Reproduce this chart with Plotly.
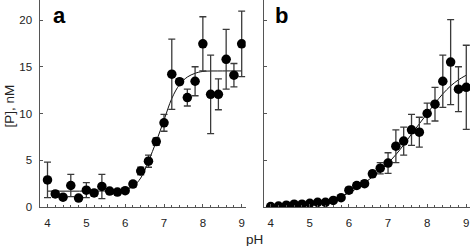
import plotly.graph_objects as go

# ---- data ----
ph = [4.0, 4.2, 4.4, 4.6, 4.8, 5.0, 5.2, 5.4, 5.6, 5.8, 6.0, 6.2, 6.4,
      6.6, 6.8, 7.0, 7.2, 7.4, 7.6, 7.8, 8.0, 8.2, 8.4, 8.6, 8.8, 9.0]

a_vals = [2.9, 1.4, 1.05, 2.3, 0.95, 1.8, 1.5, 2.2, 1.7, 1.6, 1.75, 2.45, 3.85,
          4.9, 7.0, 9.0, 14.2, 13.4, 11.7, 13.45, 17.45, 12.05, 12.05, 15.8, 14.1, 17.45]
a_err = [1.9, 0.3, 0.2, 1.2, 0.2, 0.8, 0.3, 1.3, 0.2, 0.2, 0.2, 0.3, 0.4,
         0.65, 0.4, 0.9, 3.75, 0.3, 0.9, 1.55, 2.9, 4.2, 1.65, 3.2, 1.25, 3.5]

b_vals = [0.05, 0.1, 0.2, 0.3, 0.3, 0.4, 0.5, 0.5, 0.7, 1.0, 1.8, 2.3, 2.5,
          3.55, 4.15, 4.7, 6.5, 7.05, 8.25, 8.0, 10.0, 11.0, 13.45, 15.5, 12.6, 12.8]
b_err = [0.1, 0.1, 0.1, 0.1, 0.1, 0.1, 0.1, 0.1, 0.1, 0.2, 0.3, 0.3, 0.3,
         0.3, 0.6, 1.1, 1.75, 1.5, 1.65, 1.6, 1.1, 1.8, 2.8, 4.55, 2.4, 4.5]

fit_a_ph = [4.0, 5.0, 5.8, 6.0, 6.2, 6.4, 6.6, 6.8, 7.0, 7.2, 7.4, 7.6, 7.8, 8.0, 8.5, 9.0]
fit_a = [1.7, 1.7, 1.75, 1.85, 2.2, 3.1, 4.9, 7.0, 9.3, 11.6, 13.1, 13.9, 14.3, 14.5, 14.55, 14.55]

fit_b_ph = [4.0, 4.5, 5.0, 5.5, 6.0, 6.2, 6.4, 6.6, 6.8, 7.0, 7.2, 7.4, 7.6, 7.8, 8.0, 8.2, 8.4, 8.6, 8.8, 9.0]
fit_b = [0.05, 0.15, 0.35, 0.75, 1.5, 2.0, 2.6, 3.2, 3.9, 4.7, 5.6, 6.65, 7.8, 8.9, 10.0, 11.1, 12.1, 12.95, 13.6, 14.1]

y_ticks = [0, 5, 10, 15, 20]
x_ticks = [4, 5, 6, 7, 8, 9]

W, H = 472, 246
PH = 207  # plot-area height in px (margin b = 39)
axis_col = "#555555"
err_col = "#3a3a3a"
font_fam = "Liberation Sans, Arial, sans-serif"


def py(pix):
    """pixel row (from top of figure) -> paper y within the plot area"""
    return (PH - pix) / PH


fig = go.Figure()

for xa, ya, vals, errs, fx, fy in [
    ("x", "y", a_vals, a_err, fit_a_ph, fit_a),
    ("x2", "y2", b_vals, b_err, fit_b_ph, fit_b),
]:
    fig.add_trace(go.Scatter(
        x=fx, y=fy, mode="lines", line=dict(color="#111111", width=1, shape="spline"),
        xaxis=xa, yaxis=ya, hoverinfo="skip"))
    fig.add_trace(go.Scatter(
        x=ph, y=vals, mode="markers",
        marker=dict(color="black", size=9.5, line=dict(width=0)),
        error_y=dict(type="data", array=errs, visible=True, color=err_col,
                     thickness=1.3, width=3.5),
        xaxis=xa, yaxis=ya))

common_x = dict(
    showgrid=False, zeroline=False, showline=True, linecolor=axis_col, linewidth=1.3,
    ticks="inside", ticklen=3, tickcolor=axis_col, tickwidth=1,
    tickvals=x_ticks, ticktext=[str(v) for v in x_ticks],
    tickfont=dict(family=font_fam, size=11.5, color="#222222"),
    ticklabelstandoff=5,
    minor=dict(dtick=0.2, tick0=4, ticks="inside", ticklen=2, tickcolor=axis_col, tickwidth=1),
    fixedrange=True,
)
common_y = dict(
    showgrid=False, zeroline=False, showline=True, linecolor=axis_col, linewidth=1.3,
    ticks="inside", ticklen=3, tickcolor=axis_col, tickwidth=1,
    tickvals=y_ticks, range=[0, 207 / 9.35],
    tickfont=dict(family=font_fam, size=11.5, color="#222222"),
    fixedrange=True,
)

fig.update_layout(
    width=W, height=H,
    margin=dict(l=0, r=0, t=0, b=H - PH),
    paper_bgcolor="white", plot_bgcolor="white",
    showlegend=False,
    xaxis=dict(common_x, domain=[39.5 / W, 245.7 / W], range=[3.794, 9.103], anchor="y"),
    xaxis2=dict(common_x, domain=[264 / W, 470 / W], range=[3.829, 9.095], anchor="y2"),
    yaxis=dict(common_y, anchor="x", ticklabelstandoff=4),
    yaxis2=dict(common_y, anchor="x2", showticklabels=False),
    font=dict(family=font_fam),
    annotations=[
        dict(text="<b>a</b>", x=51 / W, y=py(15.5), xref="paper", yref="paper",
             xanchor="left", yanchor="middle", showarrow=False,
             font=dict(family=font_fam, size=22, color="black")),
        dict(text="<b>b</b>", x=273 / W, y=py(15.5), xref="paper", yref="paper",
             xanchor="left", yanchor="middle", showarrow=False,
             font=dict(family=font_fam, size=22, color="black")),
        dict(text="[P], nM", x=8.5 / W, y=py(106), xref="paper", yref="paper",
             xanchor="center", yanchor="middle", showarrow=False, textangle=-90,
             font=dict(family=font_fam, size=13.5, color="#222222")),
        dict(text="pH", x=254 / W, y=py(239), xref="paper", yref="paper",
             xanchor="center", yanchor="middle", showarrow=False,
             font=dict(family=font_fam, size=13.5, color="#222222")),
    ],
)

fig.write_html("out.html", config={"displayModeBar": False})

# remove the default page margin so the figure sits at the window's top-left
with open("out.html", "r", encoding="utf-8") as f:
    html = f.read()
html = html.replace("<head>", "<head><style>html,body{margin:0;padding:0;overflow:hidden;}</style>", 1)
with open("out.html", "w", encoding="utf-8") as f:
    f.write(html)
